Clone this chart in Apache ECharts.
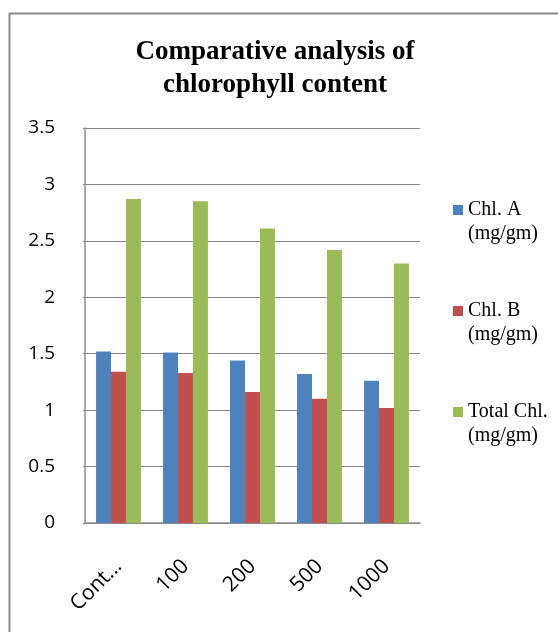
<!DOCTYPE html>
<html>
<head>
<meta charset="utf-8">
<script src="https://cdn.jsdelivr.net/npm/echarts@6/dist/echarts.min.js"></script>
<style>html,body{margin:0;padding:0;background:#fff;}#c{width:558px;height:632px;}</style>
</head>
<body>
<div id="c"></div>
<script>
const categories = ['Control', '100', '200', '500', '1000'];
const chlA = [1.52, 1.51, 1.44, 1.32, 1.26];
const chlB = [1.34, 1.33, 1.16, 1.10, 1.02];
const totalChl = [2.87, 2.85, 2.61, 2.42, 2.30];
const seriesNames = ['Chl. A\n(mg/gm)', 'Chl. B\n(mg/gm)', 'Total Chl.\n(mg/gm)'];
const colors = ['#4F81BD', '#C0504D', '#9BBB59'];

const chart = echarts.init(document.getElementById('c'));
const sansFont = '"Open Sans", "Noto Sans", sans-serif';
const serifFont = '"Liberation Serif", "DejaVu Serif", serif';
chart.setOption({
  animation: false,
  backgroundColor: '#fff',
  graphic: [{
    type: 'rect', left: 7, top: 11, silent: true,
    shape: { x: 0, y: 0, width: 620, height: 700 },
    style: { fill: 'none', stroke: '#8a8a8a', lineWidth: 2 }
  }],
  title: {
    text: 'Comparative analysis of\nchlorophyll content',
    left: 270, top: 31, textAlign: 'center',
    textStyle: { fontFamily: serifFont, fontWeight: 'bold', fontSize: 27, lineHeight: 33, color: '#000' }
  },
  legend: {
    orient: 'vertical', left: 453, top: 174, padding: 0,
    itemWidth: 10, itemHeight: 10, itemGap: 29, icon: 'rect',
    data: seriesNames,
    formatter: name => '\n' + name,
    textStyle: { fontFamily: serifFont, fontSize: 20, lineHeight: 24, color: '#000' }
  },
  grid: { left: 85, right: 138, top: 128, bottom: 109, containLabel: false },
  xAxis: {
    type: 'category', data: categories,
    axisLine: { lineStyle: { color: '#8c8c8c', width: 1.5 } },
    axisTick: { show: false },
    axisLabel: {
      rotate: 45, margin: 40, interval: 0,
      fontFamily: sansFont, fontSize: 21, color: '#000',
      formatter: v => (v.length > 4 && isNaN(Number(v))) ? v.slice(0, 4) + '...' : v
    }
  },
  yAxis: {
    type: 'value', min: 0, max: 3.5, interval: 0.5,
    axisLine: { show: true, lineStyle: { color: '#8c8c8c', width: 1.5 } },
    axisTick: { show: true, length: 2, lineStyle: { color: '#8c8c8c' } },
    splitLine: { lineStyle: { color: '#878787', width: 1.2 } },
    axisLabel: { margin: 30, fontFamily: sansFont, fontSize: 19, color: '#000' }
  },
  series: [
    { name: seriesNames[0], type: 'bar', data: chlA, itemStyle: { color: colors[0] }, barGap: '0%', barCategoryGap: '33%' },
    { name: seriesNames[1], type: 'bar', data: chlB, itemStyle: { color: colors[1] }, barGap: '0%', barCategoryGap: '33%' },
    { name: seriesNames[2], type: 'bar', data: totalChl, itemStyle: { color: colors[2] }, barGap: '0%', barCategoryGap: '33%' }
  ]
});
</script>
</body>
</html>
